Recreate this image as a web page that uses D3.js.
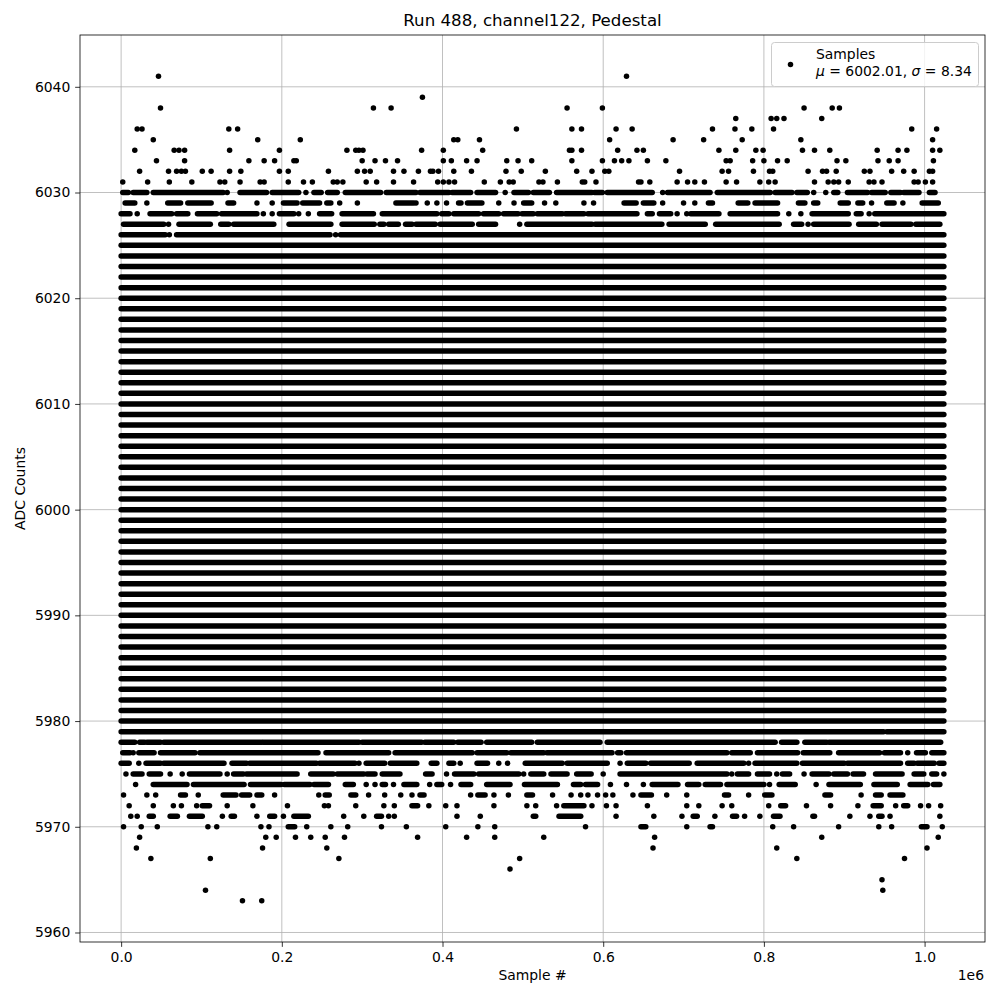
<!DOCTYPE html>
<html>
<head>
<meta charset="utf-8">
<script src="https://cdn.jsdelivr.net/npm/d3@7"></script>
<style>
  body { margin: 0; background: #fff; }
  text { font-family: "DejaVu Sans", sans-serif; }
</style>
</head>
<body>
<svg id="chart" width="1000" height="1000"></svg>
<script>
// sample index in units of 1e6, values in ADC counts
const xTicks = [0.0, 0.2, 0.4, 0.6, 0.8, 1.0];
const yTicks = [5960, 5970, 5980, 5990, 6000, 6010, 6020, 6030, 6040];
const sampleStart = 0;
const sampleEnd = 1.024;

// rows that are filled over the full run
const denseRows = [5980, 5981, 5982, 5983, 5984, 5985, 5986, 5987, 5988, 5989,
  5990, 5991, 5992, 5993, 5994, 5995, 5996, 5997, 5998, 5999,
  6000, 6001, 6002, 6003, 6004, 6005, 6006, 6007, 6008, 6009,
  6010, 6011, 6012, 6013, 6014, 6015, 6016, 6017, 6018, 6019,
  6020, 6021, 6022, 6023, 6024, 6025];

// upper tail: a number is a single sample, [a, b] a run of samples
const topRows = [
  [6041, [0.0465, 0.629]],
  [6039, [0.375]],
  [6038, [0.049, 0.314, 0.336, 0.555, 0.599, 0.850, 0.885, 0.894]],
  [6037, [0.765, 0.809, 0.816, 0.825, 0.872]],
  [6036, [0.020, 0.026, 0.134, 0.145, 0.492, 0.561, 0.573, 0.616, 0.636, 0.736, 0.764, 0.785, 0.812, 0.984, 1.015]],
  [6035, [0.040, 0.170, 0.223, 0.414, 0.419, 0.446, 0.608, 0.687, 0.725, 0.773, 0.846, 1.010]],
  [6034, [0.017, 0.066, 0.072, 0.079, 0.135, 0.197, 0.281, 0.292, 0.296, 0.301, 0.374, 0.401, 0.450, 0.558, 0.561,
          0.573, 0.618, 0.642, 0.650, 0.744, 0.765, 0.790, 0.799, 0.848, 0.863, 0.882, 0.941, 0.967, 0.978, 1.010, 1.019]],
  [6033, [0.044, 0.079, 0.159, 0.178, 0.191, 0.215, 0.218, 0.300, 0.316, 0.329, 0.344, 0.401, 0.411, 0.430, 0.443,
          0.480, 0.494, 0.511, 0.561, 0.599, 0.614, 0.623, 0.632, 0.655, 0.678, 0.753, 0.758, 0.786, 0.800, 0.817,
          0.829, 0.891, 0.902, 0.942, 0.956, 0.967, 1.011]],
  [6032, [0.023, 0.059, 0.069, 0.075, 0.080, 0.101, 0.112, 0.135, 0.149, 0.197, 0.208, 0.258, 0.294, 0.303, 0.310,
          0.339, 0.352, 0.370, 0.385, 0.388, 0.395, 0.414, 0.436, 0.479, 0.498, 0.528, 0.567, 0.586, 0.602, 0.607,
          0.695, 0.748, 0.756, 0.787, 0.807, 0.811, 0.855, 0.873, 0.878, 0.890, 0.925, 0.932, 0.959, 0.974, 0.987,
          1.006, 1.010]],
  [6031, [0.002, 0.033, 0.060, 0.088, 0.123, 0.129, 0.148, 0.173, 0.178, 0.208, 0.227, 0.238, 0.264, 0.269, 0.276,
          0.305, 0.318, 0.339, 0.364, 0.394, 0.401, 0.408, 0.415, 0.452, 0.472, 0.483, 0.488, 0.520, 0.525, 0.543,
          0.574, 0.577, 0.591, 0.644, 0.647, 0.658, 0.692, 0.705, 0.714, 0.726, 0.753, 0.766, 0.795, 0.806, 0.814,
          0.863, 0.880, 0.887, 0.893, 0.905, 0.931, 0.937, 0.947, 0.987, 0.992, 1.001, 1.010]],
  [6030, [[0.002, 0.009], [0.015, 0.032], [0.040, 0.127], 0.132, [0.148, 0.181], [0.188, 0.221], 0.230,
          [0.240, 0.249], [0.257, 0.269], [0.279, 0.323], [0.330, 0.367], [0.372, 0.408], [0.412, 0.435],
          [0.443, 0.466], 0.478, [0.489, 0.507], [0.513, 0.533], [0.542, 0.586], [0.589, 0.599], [0.605, 0.661],
          0.674, [0.680, 0.733], [0.742, 0.808], [0.814, 0.835], [0.841, 0.854], 0.862, 0.877, [0.887, 0.892],
          [0.904, 0.929], [0.934, 0.951], [0.958, 0.970], [0.974, 0.993], [1.006, 1.013]]],
  [6029, [[0.005, 0.017], 0.032, [0.058, 0.074], [0.083, 0.112], [0.133, 0.140], 0.169, 0.188, [0.202, 0.219],
          [0.226, 0.247], [0.256, 0.261], 0.272, 0.294, [0.342, 0.364], 0.367, 0.381, 0.393, 0.405, [0.420, 0.423],
          [0.431, 0.449], 0.470, 0.489, [0.501, 0.511], 0.527, 0.541, 0.576, 0.588, [0.626, 0.641], [0.650, 0.663],
          0.674, 0.700, 0.714, [0.731, 0.736], [0.768, 0.780], [0.789, 0.817], [0.843, 0.851], [0.862, 0.867],
          [0.895, 0.905], [0.917, 0.923], 0.934, [0.953, 0.962], 0.973, [0.997, 1.017]]],
  [6028, [[0.000, 0.011], 0.020, [0.036, 0.063], [0.069, 0.083], [0.095, 0.119], [0.125, 0.169], 0.177, 0.188,
          [0.197, 0.215], 0.221, 0.233, [0.247, 0.262], [0.275, 0.314], [0.325, 0.393], [0.399, 0.408],
          [0.414, 0.445], [0.451, 0.470], [0.476, 0.494], [0.499, 0.513], [0.518, 0.549], [0.553, 0.576],
          [0.581, 0.642], [0.655, 0.661], [0.670, 0.684], 0.692, 0.704, [0.709, 0.744], [0.758, 0.817], 0.831,
          0.846, [0.860, 0.905], [0.915, 0.921], 0.931, [0.938, 1.024]]],
  [6027, [[0.003, 0.053], 0.059, [0.072, 0.111], [0.124, 0.134], [0.140, 0.190], [0.209, 0.261], [0.275, 0.315],
          [0.322, 0.327], [0.333, 0.345], [0.354, 0.362], [0.367, 0.391], [0.397, 0.437], [0.445, 0.466], 0.496,
          [0.505, 0.586], [0.590, 0.673], [0.682, 0.727], [0.740, 0.819], [0.837, 0.847], 0.855, [0.862, 0.906],
          [0.918, 0.940], [0.947, 0.983], [0.989, 1.019]]],
  [6026, [[0.000, 0.055], 0.060, [0.069, 0.260], 0.267, [0.273, 1.024]]]
];

// lower tail
const bottomRows = [
  [5979, [[0.000, 0.949], [0.953, 1.024]]],
  [5978, [[0.000, 0.017], [0.023, 0.029], [0.032, 0.049], [0.053, 0.175], [0.177, 0.296], [0.300, 0.374],
          [0.378, 0.414], [0.419, 0.448], [0.455, 0.511], [0.518, 0.596], [0.605, 0.814], [0.822, 0.841],
          [0.851, 0.878], [0.881, 1.020]]],
  [5977, [[0.002, 0.011], 0.015, [0.022, 0.041], [0.049, 0.092], [0.098, 0.245], [0.255, 0.333], [0.341, 0.437],
          [0.443, 0.480], [0.485, 0.526], [0.530, 0.611], [0.618, 0.622], [0.629, 0.754], [0.760, 0.783],
          [0.792, 0.842], [0.849, 0.882], [0.893, 0.944], [0.950, 0.970], 0.979, [0.990, 1.001], [1.009, 1.024]]],
  [5976, [[0.000, 0.010], 0.022, [0.031, 0.049], [0.053, 0.128], [0.138, 0.156], [0.160, 0.243], [0.247, 0.291],
          0.296, [0.305, 0.328], [0.335, 0.368], [0.386, 0.393], [0.408, 0.414], 0.422, [0.443, 0.456], 0.470,
          0.481, [0.503, 0.549], [0.555, 0.605], 0.621, [0.630, 0.653], [0.659, 0.707], [0.717, 0.775], 0.781,
          [0.789, 0.841], [0.848, 0.900], [0.904, 0.970], [0.979, 0.987], [0.991, 1.012], [1.018, 1.024]]],
  [5975, [0.006, [0.015, 0.026], [0.035, 0.049], 0.061, 0.076, [0.085, 0.123], 0.132, [0.140, 0.152],
          [0.156, 0.219], [0.236, 0.264], [0.269, 0.302], [0.306, 0.316], [0.325, 0.347], [0.379, 0.387], 0.405,
          [0.415, 0.439], [0.445, 0.495], 0.501, [0.510, 0.526], [0.535, 0.555], [0.567, 0.585], 0.600,
          [0.621, 0.754], 0.760, [0.767, 0.781], [0.792, 0.807], 0.816, [0.823, 0.832], 0.850, [0.860, 0.881],
          [0.887, 0.904], [0.911, 0.924], [0.939, 0.972], [0.987, 0.999], [1.009, 1.015], 1.024]],
  [5974, [0.018, [0.040, 0.082], [0.090, 0.153], [0.161, 0.199], [0.203, 0.235], [0.240, 0.258], [0.279, 0.289],
          0.305, 0.316, [0.325, 0.329], 0.339, [0.352, 0.368], 0.384, [0.393, 0.399], 0.410, [0.423, 0.435],
          [0.455, 0.484], [0.502, 0.543], [0.563, 0.572], [0.578, 0.593], 0.609, 0.629, 0.650, [0.661, 0.693],
          [0.705, 0.719], [0.727, 0.746], [0.754, 0.800], 0.807, [0.819, 0.839], 0.865, [0.881, 0.920],
          [0.937, 0.966], [0.982, 1.004], [1.011, 1.019]]],
  [5973, [0.003, 0.032, 0.043, [0.074, 0.080], 0.096, [0.127, 0.143], [0.150, 0.160], [0.169, 0.175], 0.191,
          0.246, [0.254, 0.259], [0.286, 0.292], 0.308, 0.328, 0.348, 0.362, [0.372, 0.377], 0.435, [0.444, 0.453],
          0.464, 0.482, [0.505, 0.512], 0.537, 0.560, 0.572, 0.581, 0.593, 0.603, 0.612, 0.637, [0.647, 0.660],
          0.679, 0.704, [0.751, 0.756], 0.781, [0.801, 0.810], [0.876, 0.883], 0.921, [0.939, 0.946],
          [0.957, 0.973]]],
  [5972, [0.010, 0.040, 0.065, 0.075, 0.094, [0.101, 0.110], 0.132, 0.164, 0.207, 0.253, 0.258, 0.292, 0.327,
          0.340, [0.362, 0.369], 0.383, 0.404, 0.418, 0.464, 0.505, 0.516, 0.542, [0.551, 0.576], 0.586, 0.604,
          0.616, 0.655, 0.704, 0.719, 0.748, 0.760, 0.806, [0.821, 0.827], 0.853, 0.883, 0.917, [0.936, 0.946],
          0.964, [0.974, 0.979], 0.995, 1.005, 1.020]],
  [5971, [0.012, 0.020, [0.035, 0.040], [0.061, 0.070], [0.085, 0.101], 0.126, [0.137, 0.141], 0.169,
          [0.185, 0.191], 0.202, [0.215, 0.233], 0.277, 0.302, [0.318, 0.324], 0.333, 0.340, 0.418, 0.447,
          [0.513, 0.516], [0.545, 0.572], 0.616, 0.663, 0.698, [0.712, 0.717], 0.739, [0.761, 0.766], 0.776,
          0.795, [0.812, 0.820], [0.861, 0.863], 0.907, 0.932, [0.943, 0.947], 0.957, 1.019]],
  [5970, [0.003, 0.025, 0.045, 0.108, 0.119, 0.174, 0.184, [0.208, 0.216], 0.231, 0.261, 0.282, 0.324, 0.355,
          0.404, 0.444, 0.465, 0.578, [0.647, 0.653], 0.704, [0.733, 0.736], 0.811, 0.837, 0.893, 0.943, 0.959,
          [0.996, 1.003], 1.022]],
  [5969, [0.023, 0.180, 0.193, 0.217, 0.236, 0.254, 0.278, 0.369, 0.430, 0.465, 0.526, 0.664, 0.872, 1.017]],
  [5968, [0.019, 0.176, 0.256, 0.662, 0.816, 1.003]],
  [5967, [0.037, 0.111, 0.271, 0.496, 0.841, 0.975]],
  [5966, [0.484]],
  [5965, [0.947]],
  [5964, [0.105, 0.948]],
  [5963, [0.151, 0.175]]
];

const legendLabel = "Samples";
const meanValue = "6002.01";
const sigmaValue = "8.34";

const svg = d3.select("#chart");
const plotLeft = 80, plotRight = 985, plotTop = 35, plotBottom = 942;
const dotSize = 5.5;

const x = d3.scaleLinear().domain([-0.0512, 1.0752]).range([plotLeft, plotRight]);
const y = d3.scaleLinear().domain([5959.1, 6044.9]).range([plotBottom, plotTop]);

// grid
svg.append("g").selectAll("line").data(xTicks).enter().append("line")
  .attr("x1", d => x(d)).attr("x2", d => x(d))
  .attr("y1", plotTop).attr("y2", plotBottom)
  .attr("stroke", "#b0b0b0").attr("stroke-width", 0.8);
svg.append("g").selectAll("line").data(yTicks).enter().append("line")
  .attr("x1", plotLeft).attr("x2", plotRight)
  .attr("y1", d => y(d)).attr("y2", d => y(d))
  .attr("stroke", "#b0b0b0").attr("stroke-width", 0.8);

// flatten rows into runs and single samples
const runs = [];
const singles = [];
denseRows.forEach(v => runs.push({ v: v, a: sampleStart, b: sampleEnd }));
topRows.concat(bottomRows).forEach(([v, items]) => {
  items.forEach(it => {
    if (Array.isArray(it)) runs.push({ v: v, a: it[0], b: it[1] });
    else singles.push({ v: v, a: it });
  });
});

const marks = svg.append("g");
marks.selectAll("line").data(runs).enter().append("line")
  .attr("x1", d => x(d.a)).attr("x2", d => x(d.b))
  .attr("y1", d => y(d.v)).attr("y2", d => y(d.v))
  .attr("stroke", "#000").attr("stroke-width", dotSize)
  .attr("stroke-linecap", "round");
marks.selectAll("circle").data(singles).enter().append("circle")
  .attr("cx", d => x(d.a)).attr("cy", d => y(d.v))
  .attr("r", dotSize / 2).attr("fill", "#000");

// axes
const xAxis = d3.axisBottom(x).tickValues(xTicks).tickFormat(d3.format(".1f"))
  .tickSize(4.86).tickPadding(4.86);
const yAxis = d3.axisLeft(y).tickValues(yTicks).tickFormat(d3.format("d"))
  .tickSize(4.86).tickPadding(4.86);

const gx = svg.append("g").attr("transform", `translate(0, ${plotBottom})`).call(xAxis);
const gy = svg.append("g").attr("transform", `translate(${plotLeft}, 0)`).call(yAxis);
[gx, gy].forEach(g => {
  g.select(".domain").remove();
  g.selectAll("line").attr("stroke", "#000").attr("stroke-width", 0.8);
  g.selectAll("text").attr("font-family", "DejaVu Sans").attr("font-size", "13.9px").attr("fill", "#000");
});

// spines
svg.append("rect")
  .attr("x", plotLeft).attr("y", plotTop)
  .attr("width", plotRight - plotLeft).attr("height", plotBottom - plotTop)
  .attr("fill", "none").attr("stroke", "#000").attr("stroke-width", 0.8);

// labels
svg.append("text").attr("x", (plotLeft + plotRight) / 2).attr("y", 26)
  .attr("text-anchor", "middle").attr("font-size", "16.67px").text("Run 488, channel122, Pedestal");
svg.append("text").attr("x", (plotLeft + plotRight) / 2).attr("y", 980)
  .attr("text-anchor", "middle").attr("font-size", "13.9px").text("Sample #");
svg.append("text").attr("transform", `translate(25, ${(plotTop + plotBottom) / 2}) rotate(-90)`)
  .attr("text-anchor", "middle").attr("font-size", "13.9px").text("ADC Counts");
svg.append("text").attr("x", plotRight - 1).attr("y", 980)
  .attr("text-anchor", "end").attr("font-size", "13.9px").text("1e6");

// legend
const legend = svg.append("g");
legend.append("rect")
  .attr("x", 771.5).attr("y", 42.5).attr("width", 207).attr("height", 44)
  .attr("rx", 3).attr("fill", "#fff").attr("fill-opacity", 0.8)
  .attr("stroke", "#cccccc").attr("stroke-width", 1);
legend.append("circle").attr("cx", 790.5).attr("cy", 64.5).attr("r", dotSize / 2).attr("fill", "#000");
legend.append("text").attr("x", 816).attr("y", 59).attr("font-size", "13.9px").text(legendLabel);
const stat = legend.append("text").attr("x", 816).attr("y", 76).attr("font-size", "13.9px");
stat.append("tspan").attr("font-style", "italic").text("\u03bc");
stat.append("tspan").text(` = ${meanValue}, `);
stat.append("tspan").attr("font-style", "italic").text("\u03c3");
stat.append("tspan").text(` = ${sigmaValue}`);
</script>
</body>
</html>
